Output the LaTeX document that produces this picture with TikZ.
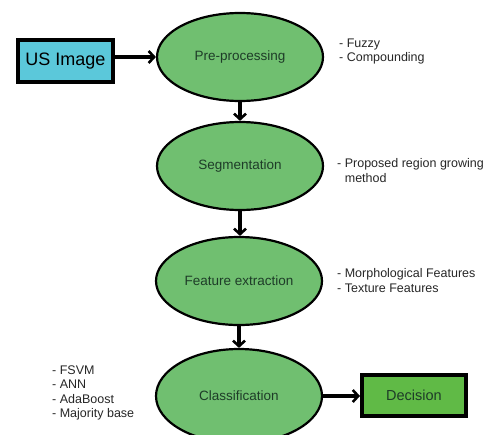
\documentclass[tikz,border=0pt]{standalone}
\usepackage{fontspec}
\setmainfont{Liberation Sans}
\usetikzlibrary{shapes.geometric,arrows.meta}
\definecolor{ellfill}{RGB}{112,191,112}
\definecolor{cyanfill}{RGB}{91,200,218}
\definecolor{decfill}{RGB}{96,186,70}
\definecolor{txtgreen}{RGB}{30,60,40}
\tikzset{
  stage/.style={ellipse, draw=black, line width=2.2pt, fill=ellfill, minimum width=166pt, minimum height=88pt, inner sep=0pt, text=txtgreen, font=\fontsize{13.5}{16}\selectfont},
  flow/.style={line width=3.2pt, -{Straight Barb[length=5.5pt,width=12pt,line width=2.6pt]}},
  sidetext/.style={anchor=north west, align=left, inner sep=0pt, font=\fontsize{12.5}{14.5}\selectfont, text=black!85}
}
\begin{document}
\begin{tikzpicture}[x=1pt,y=-1pt]
\useasboundingbox (0,0) rectangle (489,434);
\node[stage] (pre) at (240,57) {Pre-processing};
\node[stage] (seg) at (240,166) {Segmentation};
\node[stage] (fe) at (239,281) {Feature extraction};
\node[stage, minimum height=94pt] (cls) at (239,396) {Classification};
\node[draw=black, line width=4pt, fill=cyanfill, minimum width=95pt, minimum height=42pt, inner sep=0pt, font=\fontsize{18}{20}\selectfont] (us) at (65.5,61) {US Image};
\node[draw=black, line width=4pt, fill=decfill, minimum width=104pt, minimum height=41pt, inner sep=0pt, text=txtgreen, font=\fontsize{14.5}{16}\selectfont] (dec) at (414,395.5) {Decision};
\draw[flow] (us.east |- pre.west) -- (pre.west);
\draw[flow] (pre.south) -- (seg.north);
\draw[flow] (seg.south) -- (seg.south |- fe.north);
\draw[flow] (fe.south) -- (cls.north);
\draw[flow] (cls.east) -- (cls.east -| dec.west);
\node[sidetext] (t1) at (339,38.5) {- Fuzzy\\- Compounding};
\node[sidetext] (t2) at (337,158.5) {- Proposed region growing\\\hphantom{- }method};
\node[sidetext] (t3) at (337,268.5) {- Morphological Features\\- Texture Features};
\node[sidetext] (t4) at (52,365.5) {- FSVM\\- ANN\\- AdaBoost\\- Majority base};
\end{tikzpicture}
\end{document}
